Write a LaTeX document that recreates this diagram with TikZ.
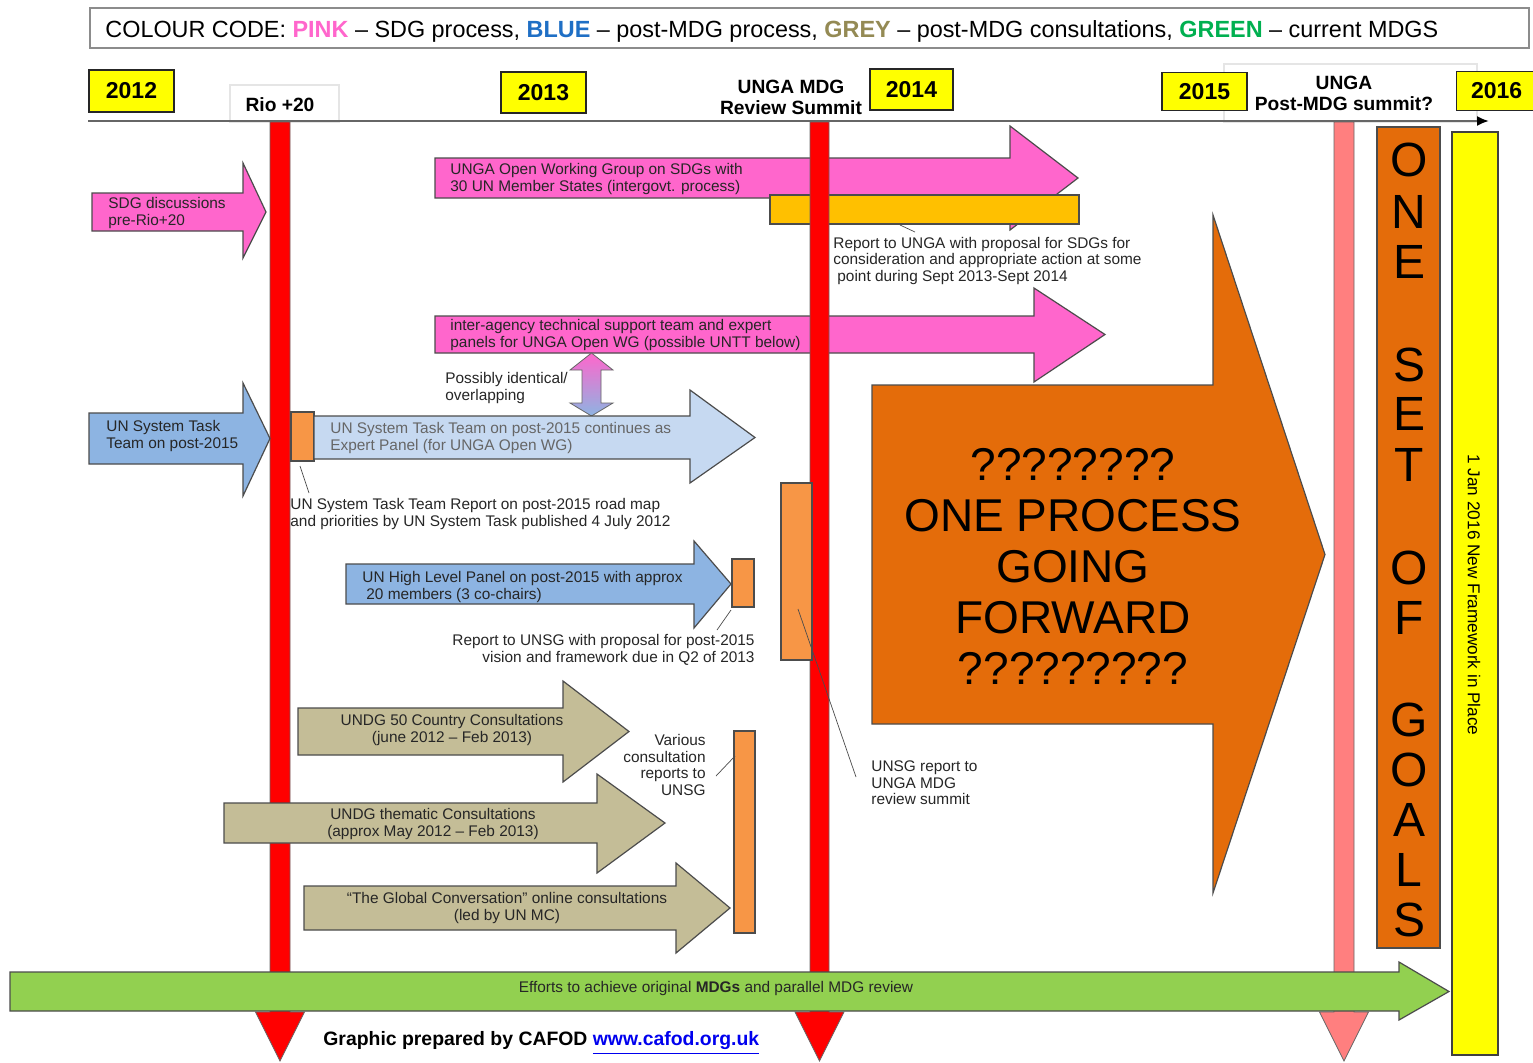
\documentclass[tikz,border=0pt]{standalone}
\usepackage{fontspec}
\setmainfont{Liberation Sans}
\usetikzlibrary{arrows.meta}
\definecolor{pinkc}{HTML}{FF66CC}
\definecolor{bluec}{HTML}{8DB4E2}
\definecolor{lbluec}{HTML}{C6D9F1}
\definecolor{oranges}{HTML}{F79646}
\definecolor{orangeb}{HTML}{E46C0A}
\definecolor{khakic}{HTML}{C4BD97}
\definecolor{greenc}{HTML}{92D050}
\definecolor{yellowc}{HTML}{FFFF00}
\definecolor{amberc}{HTML}{FFC000}
\definecolor{redc}{HTML}{FF0000}
\definecolor{salmonc}{HTML}{FF7F7F}
\definecolor{legblue}{HTML}{1F6FC5}
\definecolor{leggrey}{HTML}{948A54}
\definecolor{leggreen}{HTML}{00B050}
\definecolor{linkblue}{HTML}{0000EE}
\newcommand\fs[2]{\fontsize{#1}{#2}\selectfont}
\newcommand\harrow[8]{\filldraw[#1] (#2,#3) -- (#5,#3) -- (#5,#6) -- (#8,{0.5*(#3+#4)}) -- (#5,#7) -- (#5,#4) -- (#2,#4) -- cycle;}
\newcommand\vbar[3]{\filldraw[#1] (#2,122) -- (#3,122) -- (#3,1012) -- ({0.5*(#2+#3)+24.5},1012) -- ({0.5*(#2+#3)},1061) -- ({0.5*(#2+#3)-24.5},1012) -- (#2,1012) -- cycle;}
\tikzset{
  outl/.style={draw=black!70, line width=0.6pt},
  pinkA/.style={outl, fill=pinkc},
  blueA/.style={outl, fill=bluec},
  lblueA/.style={outl, fill=lbluec},
  khakiA/.style={outl, fill=khakic},
  greenA/.style={outl, fill=greenc},
  bigO/.style={outl, fill=orangeb},
  smallO/.style={outl, fill=oranges},
  redbar/.style={draw=black!60, line width=0.4pt, fill=redc},
  salbar/.style={draw=black!60, line width=0.4pt, fill=salmonc},
  yearbox/.style={draw=black!85, line width=0.6pt, fill=yellowc, font=\fs{11.5}{13}\bfseries, inner sep=0pt},
  evt/.style={font=\fs{9.6}{10.5}\bfseries, align=center, inner sep=0pt},
  txt/.style={font=\fs{7.7}{8.3}, text=black!85, inner sep=0pt},
  callout/.style={draw=black!70, line width=0.35pt},
  faintbox/.style={draw=black!10, line width=0.6pt, fill=white},
}
\begin{document}
\begin{tikzpicture}[x=0.5pt,y=-0.5pt]
\useasboundingbox (0,0) rectangle (1533,1062);
\fill[white] (0,0) rectangle (1533,1062);

% legend
\draw[draw=black!45, line width=0.7pt, fill=white] (90,8) rectangle (1529,48);
\node[anchor=west, inner sep=0pt, font=\fs{11.7}{13}] (legend) at (105,31)
 {COLOUR CODE: \textbf{\textcolor{pinkc}{PINK}} – SDG process, \textbf{\textcolor{legblue}{BLUE}} – post-MDG process, \textbf{\textcolor{leggrey}{GREY}} – post-MDG consultations, \textbf{\textcolor{leggreen}{GREEN}} – current MDGS};

% faint event boxes
\draw[faintbox] (230,85) rectangle (339,122);
\draw[faintbox] (1224,64) rectangle (1477,122);

% timeline
\coordinate (tl0) at (88,121);
\coordinate (tl1) at (1489,121);
\draw[draw=black!60, line width=1pt, -{Latex[length=6pt,width=5pt,black]}] (tl0) -- (tl1);

% years
\node[yearbox, minimum width=42.5pt, minimum height=21pt] (y2012) at (131.5,91) {2012};
\node[yearbox, minimum width=42.5pt, minimum height=20.5pt] (y2013) at (543.5,92.5) {2013};
\node[yearbox, minimum width=41.5pt, minimum height=20.5pt] (y2014) at (911.5,89.5) {2014};
\node[yearbox, minimum width=42.5pt, minimum height=19pt] (y2015) at (1204.5,91.5) {2015};
\node[yearbox, minimum width=40pt, minimum height=19.5pt, anchor=west] (y2016) at (1456,91) {2016};

% event labels
\node[evt] (rio) at (280,105) {Rio +20};
\node[evt] (mdgsum) at (791,97) {UNGA MDG\\Review Summit};
\node[evt] (postsum) at (1344,93) {UNGA\\Post-MDG summit?};

% pink arrows and amber bar
\harrow{pinkA}{92}{193}{231}{243}{163}{258}{266}
\harrow{pinkA}{435}{158}{198}{1010}{126}{230}{1078}
\filldraw[outl, fill=amberc] (770,195) rectangle (1079,224);
\harrow{pinkA}{435}{316}{353}{1034}{288}{382}{1105}

% big orange arrow
\harrow{bigO}{872}{385}{724}{1213}{215}{893}{1325}

% vertical bars
\vbar{redbar}{270}{290}
\vbar{redbar}{810}{829}
\vbar{salbar}{1334}{1354}

% double arrow
\draw[top color=pinkc, bottom color=bluec, draw=black!60, line width=0.4pt]
 (591.5,353) -- (613,370) -- (601,370) -- (601,403) -- (613,403) -- (591.5,416) -- (570,403) -- (582,403) -- (582,370) -- (570,370) -- cycle;

% blue arrows
\harrow{blueA}{89}{413}{464}{243}{383}{496}{270}
\filldraw[smallO] (291,412) rectangle (314,461);
\harrow{lblueA}{314}{416}{459}{690}{390}{483}{755}
\harrow{blueA}{346}{564}{604}{694}{541}{628}{731}
\filldraw[smallO] (732,559) rectangle (754,607);

% orange report box on MDG bar
\filldraw[smallO] (781,483) rectangle (812,660);

% khaki arrows
\harrow{khakiA}{298}{708}{755}{563}{681}{782}{629}
\harrow{khakiA}{224}{803}{843}{597}{774}{873}{665}
\harrow{khakiA}{304}{886}{930}{676}{863}{953}{730}
\filldraw[smallO] (734,731) rectangle (755,933);

% green arrow
\harrow{greenA}{10}{972}{1011}{1399}{962}{1020}{1449}

% goals column and framework column
\filldraw[bigO] (1377,127) rectangle (1440,948);
\filldraw[draw=black!75, line width=0.6pt, fill=yellowc] (1452,132) rectangle (1498,1055);

% texts in arrows
\node[txt, anchor=west, align=left] (tsdg) at (108,213) {SDG discussions\\pre-Rio+20};
\node[txt, anchor=west, align=left] (towg) at (450,179) {UNGA Open Working Group on SDGs with\\30 UN Member States (intergovt. process)};
\node[txt, anchor=west, align=left] (tiat) at (450,335) {inter-agency technical support team and expert\\panels for UNGA Open WG (possible UNTT below)};
\node[txt, anchor=west, align=left] (tuntt) at (106,436) {UN System Task\\Team on post-2015};
\node[txt, anchor=west, align=left, text=black!60] (texp) at (330,438) {UN System Task Team on post-2015 continues as\\Expert Panel (for UNGA Open WG)};
\node[txt, anchor=west, align=left] (thlp) at (362,587) {UN High Level Panel on post-2015 with approx\\\hspace{2pt}20 members (3 co-chairs)};
\node[txt, align=center] (t50) at (452,730) {UNDG 50 Country Consultations\\(june 2012 – Feb 2013)};
\node[txt, align=center] (tthem) at (433,824) {UNDG thematic Consultations\\(approx May 2012 – Feb 2013)};
\node[txt, align=center] (tglob) at (507,908) {“The Global Conversation” online consultations\\(led by UN MC)};
\node[txt] (tgreen) at (716,989) {Efforts to achieve original \textbf{MDGs} and parallel MDG review};

% annotations
\node[txt, anchor=west, align=left] (trep1) at (833,261) {Report to UNGA with proposal for SDGs for\\consideration and appropriate action at some\\\hspace{2pt}point during Sept 2013-Sept 2014};
\node[txt, anchor=west, align=left] (tposs) at (445,388) {Possibly identical/\\overlapping};
\node[txt, anchor=west, align=left] (trep2) at (290,514) {UN System Task Team Report on post-2015 road map\\and priorities by UN System Task published 4 July 2012};
\node[txt, anchor=east, align=right] (trep3) at (755,650) {Report to UNSG with proposal for post-2015\\vision and framework due in Q2 of 2013};
\node[txt, anchor=east, align=right] (tvar) at (706,765) {Various\\consultation\\reports to\\UNSG};
\node[txt, anchor=west, align=left] (tunsg) at (871,783) {UNSG report to\\UNGA MDG\\review summit};

% callout lines
\draw[callout] (900,225) -- (915,232);
\draw[callout] (300,466) -- (309,493);
\draw[callout] (731,610) -- (717,630);
\draw[callout] (798,609) -- (856,777);
\draw[callout] (716,776) -- (735,756);

% big text
\node[font=\fs{23}{25.5}, align=center, inner sep=0pt] (tbig) at (1073,566)
 {????????\\ONE PROCESS\\GOING\\FORWARD\\?????????};

% ONE SET OF GOALS letters
\foreach \c/\yy [count=\i] in {O/160,N/212,E/262,S/365,E/414,T/465,O/568,F/618,G/720,O/770,A/820,L/870,S/920}
  \node[font=\fs{24}{26}, inner sep=0pt] (g\i) at (1409,\yy) {\c};

% framework text
\node[font=\fs{8.6}{10}, rotate=-90, inner sep=0pt] (tframe) at (1474,595) {1 Jan 2016 New Framework in Place};

% credit
\node[anchor=west, inner sep=0pt, font=\fs{9.7}{11}\bfseries] (credit) at (323,1043)
 {Graphic prepared by CAFOD \textcolor{linkblue}{\underline{www.cafod.org.uk}}};
\end{tikzpicture}
\end{document}
